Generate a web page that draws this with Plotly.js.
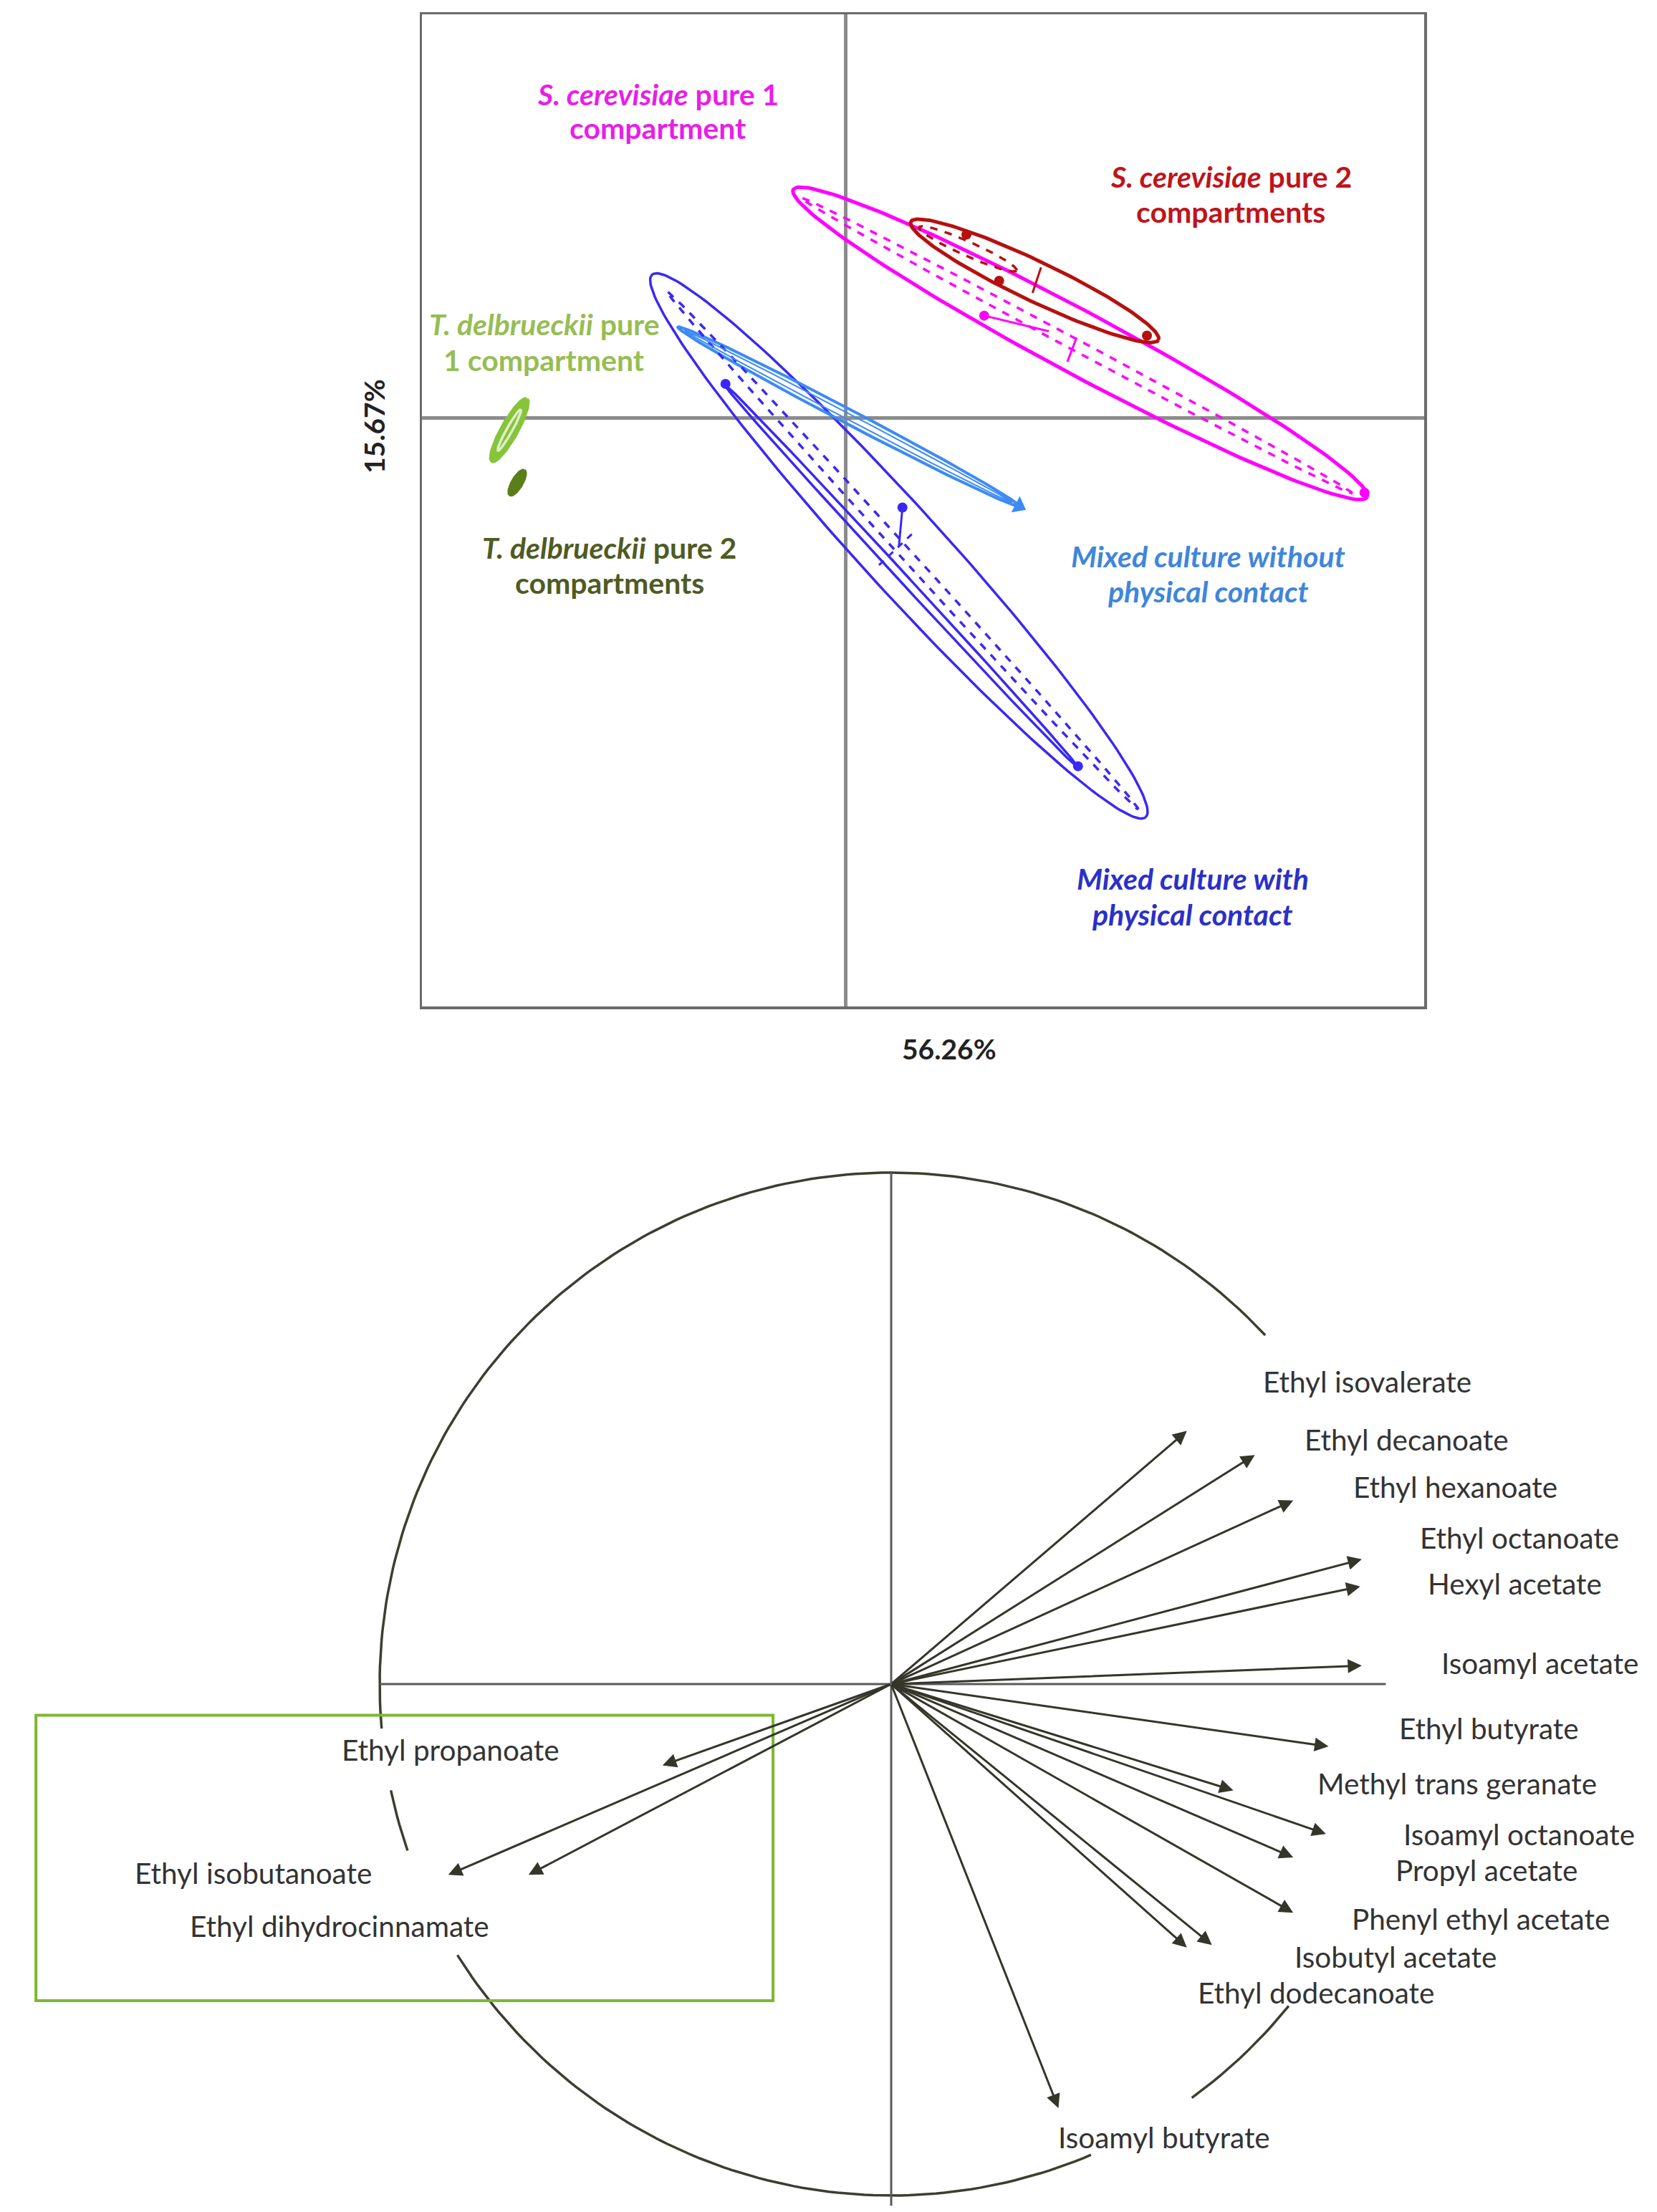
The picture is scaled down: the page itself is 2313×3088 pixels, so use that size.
<!DOCTYPE html>
<html>
<head>
<meta charset="utf-8">
<script src="https://cdn.plot.ly/plotly-3.0.1.min.js"></script>
<style>html,body{margin:0;padding:0;background:#fff;}#chart{width:2313px;height:3088px;}</style>
</head>
<body>
<div id="chart"></div>
<script>
// ---------- Scores plot (top): groups and their confidence ellipses ----------
const groupNames = [
  'S. cerevisiae pure 1 compartment',
  'S. cerevisiae pure 2 compartments',
  'Mixed culture with physical contact',
  'Mixed culture without physical contact',
  'T. delbrueckii pure 1 compartment',
  'T. delbrueckii pure 2 compartments'
];
const groupColors = ['#ff00ff', '#b5110f', '#3a28f5', '#3d8af7', '#86c43a', '#5a7f1a'];
const ellCx      = [3.30, 2.66, 0.75, 0.04, -4.73, -4.62];
const ellCy      = [1.05, 1.93, -1.80, 0.02, -0.17, -0.91];
const ellA       = [4.58, 1.93, 5.16, 2.71, 0.50, 0.20];
const ellB       = [0.44, 0.28, 0.58, 0.10, 0.11, 0.07];
const ellAngle   = [-28.2, -25.5, -47.7, -27.7, 60.8, 59.5];
// inner (dashed) ellipses
const innerCx    = [3.25, 1.72, 0.80, 0.04, -4.73];
const innerCy    = [1.02, 2.38, -1.86, 0.02, -0.17];
const innerA     = [4.40, 0.75, 4.93, 2.60, 0.33];
const innerB     = [0.08, 0.10, 0.08, 0.04, 0.04];
const innerAngle = [-28.2, -24.0, -47.7, -27.7, 60.8];
const innerGroup = [0, 1, 2, 3, 4];
// inner solid ellipse of the mixed culture with contact
const blueInner = {cx: 0.78, cy: -2.22, a: 3.68, b: 0.06, angle: -47.3};
// observation points
const ptX     = [1.70, 2.16, 4.24, -1.69, 0.80, 3.27, 2.44, 1.95, 7.30];
const ptY     = [2.58, 1.93, 1.16, 0.48, -1.26, -4.90, -1.24, 1.44, -1.05];
const ptGroup = [1, 1, 1, 2, 2, 2, 3, 0, 0];
// small segments inside the ellipses
const segX = [[0.80, 0.75], [0.47, 0.99], [1.95, 2.86], [3.25, 3.12], [2.75, 2.63]];
const segY = [[-1.26, -1.81], [-2.07, -1.58], [1.44, 1.22], [1.13, 0.79], [2.12, 1.76]];
const segGroup = [2, 2, 0, 0, 1];
const segDash = ['solid', 'dash', 'solid', 'solid', 'solid'];

const pc1Label = '56.26%';
const pc2Label = '15.67%';

// ---------- Correlation circle (bottom): variables ----------
const variables = [
  'Ethyl isovalerate', 'Ethyl decanoate', 'Ethyl hexanoate', 'Ethyl octanoate', 'Hexyl acetate',
  'Isoamyl acetate', 'Ethyl butyrate', 'Methyl trans geranate', 'Isoamyl octanoate', 'Propyl acetate',
  'Phenyl ethyl acetate', 'Isobutyl acetate', 'Ethyl dodecanoate', 'Isoamyl butyrate',
  'Ethyl propanoate', 'Ethyl isobutanoate', 'Ethyl dihydrocinnamate'
];
const loadPC1 = [0.578, 0.711, 0.786, 0.920, 0.917, 0.920, 0.855, 0.669, 0.850, 0.786, 0.786, 0.627, 0.578, 0.327, -0.447, -0.866, -0.709];
const loadPC2 = [0.495, 0.448, 0.359, 0.244, 0.191, 0.036, -0.122, -0.208, -0.293, -0.339, -0.447, -0.510, -0.515, -0.829, -0.159, -0.373, -0.373];
// label placement (layout only)
const labelPosX = [0.931, 1.008, 1.103, 1.228, 1.219, 1.269, 1.169, 1.106, 1.228, 1.164, 1.153, 0.986, 0.831, 0.533, -0.861, -1.247, -1.078];
const labelPosY = [0.592, 0.478, 0.386, 0.286, 0.197, 0.042, -0.086, -0.194, -0.294, -0.364, -0.458, -0.533, -0.603, -0.886, -0.128, -0.369, -0.472];
// visible arcs of the unit circle (degrees)
const arcStart = [43, 192, 212, 306];
const arcEnd   = [185, 199, 293, 321];

// ---------- build ----------
function ellipse(cx, cy, a, b, angDeg) {
  const th = angDeg * Math.PI / 180, xs = [], ys = [];
  for (let i = 0; i <= 180; i++) {
    const t = 2 * Math.PI * i / 180;
    xs.push(cx + a * Math.cos(t) * Math.cos(th) - b * Math.sin(t) * Math.sin(th));
    ys.push(cy + a * Math.cos(t) * Math.sin(th) + b * Math.sin(t) * Math.cos(th));
  }
  return {x: xs, y: ys};
}

const traces = [];
const outerWidth = [5, 5, 3.5, 4, 5, 4];
groupNames.forEach((g, i) => {
  const e = ellipse(ellCx[i], ellCy[i], ellA[i], ellB[i], ellAngle[i]);
  const filled = i >= 4;
  traces.push({
    type: 'scatter', mode: 'lines', x: e.x, y: e.y, name: g, showlegend: false, hoverinfo: 'name',
    line: {color: groupColors[i], width: outerWidth[i]},
    fill: filled ? 'toself' : 'none', fillcolor: groupColors[i], xaxis: 'x', yaxis: 'y'
  });
});
innerGroup.forEach((gi, k) => {
  const e = ellipse(innerCx[k], innerCy[k], innerA[k], innerB[k], innerAngle[k]);
  traces.push({
    type: 'scatter', mode: 'lines', x: e.x, y: e.y, showlegend: false, hoverinfo: 'skip',
    line: {color: gi === 4 ? '#dff0c8' : groupColors[gi], width: gi === 3 ? 2 : 3.5, dash: (gi === 3 || gi === 4) ? 'solid' : 'dash'},
    xaxis: 'x', yaxis: 'y'
  });
});
(function () {
  const e = ellipse(blueInner.cx, blueInner.cy, blueInner.a, blueInner.b, blueInner.angle);
  traces.push({type: 'scatter', mode: 'lines', x: e.x, y: e.y, showlegend: false, hoverinfo: 'skip',
    line: {color: groupColors[2], width: 3.5}, xaxis: 'x', yaxis: 'y'});
})();
segX.forEach((sx, k) => {
  traces.push({type: 'scatter', mode: 'lines', x: sx, y: segY[k], showlegend: false, hoverinfo: 'skip',
    line: {color: groupColors[segGroup[k]], width: 3, dash: segDash[k]}, xaxis: 'x', yaxis: 'y'});
});
ptX.forEach((px, k) => {
  const g = ptGroup[k];
  traces.push({type: 'scatter', mode: 'markers', x: [px], y: [ptY[k]], showlegend: false, hoverinfo: 'skip',
    marker: g === 3 ? {symbol: 'triangle-right', size: 22, angle: 27.7, color: groupColors[g]} : {size: 14, color: groupColors[g]},
    xaxis: 'x', yaxis: 'y'});
});

// correlation circle arcs
arcStart.forEach((s, k) => {
  const xs = [], ys = [];
  for (let d = s; d <= arcEnd[k] + 1e-9; d += 1) {
    xs.push(Math.cos(d * Math.PI / 180));
    ys.push(Math.sin(d * Math.PI / 180));
  }
  traces.push({type: 'scatter', mode: 'lines', x: xs, y: ys, showlegend: false, hoverinfo: 'skip',
    line: {color: '#3d3d30', width: 3.5}, xaxis: 'x2', yaxis: 'y2'});
});
// circle axes
traces.push({type: 'scatter', mode: 'lines', x: [0, 0], y: [1.0, -1.02], showlegend: false, hoverinfo: 'skip',
  line: {color: '#5a5a5a', width: 3}, xaxis: 'x2', yaxis: 'y2'});
traces.push({type: 'scatter', mode: 'lines', x: [-1.0, 0.967], y: [0, 0], showlegend: false, hoverinfo: 'skip',
  line: {color: '#5a5a5a', width: 3}, xaxis: 'x2', yaxis: 'y2'});

const annotations = [];
// arrows
variables.forEach((v, i) => {
  annotations.push({
    xref: 'x2', yref: 'y2', axref: 'x2', ayref: 'y2',
    x: loadPC1[i], y: loadPC2[i], ax: 0, ay: 0, text: '', showarrow: true,
    arrowhead: 2, arrowsize: 1.3, arrowwidth: 3, arrowcolor: '#35352a', standoff: 0
  });
  annotations.push({
    xref: 'x2', yref: 'y2', x: labelPosX[i], y: labelPosY[i], text: v, showarrow: false,
    font: {family: 'Lato, sans-serif', size: 40.5, color: '#333333'}, xanchor: 'center', yanchor: 'middle'
  });
});

// top labels (one annotation per line)
const topLabels = [
  {t: ['<b><i>S. cerevisiae</i> pure 1</b>', '<b>compartment</b>'], x: -2.64, y: [4.56, 4.08], c: '#e81ee8'},
  {t: ['<b><i>S. cerevisiae</i> pure 2</b>', '<b>compartments</b>'], x: 5.42, y: [3.40, 2.90], c: '#c0141a'},
  {t: ['<b><i>T. delbrueckii</i> pure</b>', '<b>1 compartment</b>'], x: -4.24, y: [1.32, 0.82], c: '#97bd55'},
  {t: ['<b><i>T. delbrueckii</i> pure 2</b>', '<b>compartments</b>'], x: -3.32, y: [-1.82, -2.32], c: '#4f5b23'},
  {t: ['<b><i>Mixed culture without</i></b>', '<b><i>physical contact</i></b>'], x: 5.10, y: [-1.94, -2.44], c: '#3f86db'},
  {t: ['<b><i>Mixed culture with</i></b>', '<b><i>physical contact</i></b>'], x: 4.88, y: [-6.48, -6.98], c: '#2b30c8'}
];
topLabels.forEach(l => l.t.forEach((line, j) => annotations.push({
  xref: 'x', yref: 'y', x: l.x, y: l.y[j], text: line, showarrow: false,
  font: {family: 'Lato, sans-serif', size: 41, color: l.c}, xanchor: 'center', yanchor: 'middle', align: 'center'
})));
annotations.push({xref: 'paper', yref: 'paper', x: 1325 / 2313, y: 1 - 1464 / 3088, text: '<b>' + pc1Label + '</b>',
  showarrow: false, font: {family: 'Lato, sans-serif', size: 39, color: '#222'}, xanchor: 'center', yanchor: 'middle'});
annotations.push({xref: 'paper', yref: 'paper', x: 522 / 2313, y: 1 - 595 / 3088, text: '<b>' + pc2Label + '</b>', textangle: -90,
  showarrow: false, font: {family: 'Lato, sans-serif', size: 39, color: '#222'}, xanchor: 'center', yanchor: 'middle'});

const layout = {
  width: 2313, height: 3088, margin: {l: 0, r: 0, t: 0, b: 0},
  paper_bgcolor: '#ffffff', plot_bgcolor: 'rgba(0,0,0,0)', showlegend: false,
  xaxis: {domain: [589 / 2313, 1988 / 2313], range: [-5.96, 8.14], showgrid: false, zeroline: true,
    zerolinecolor: '#8c8c8c', zerolinewidth: 5, showline: true, mirror: true, linecolor: '#6b6b6b', linewidth: 3.5,
    showticklabels: false, ticks: '', fixedrange: true},
  yaxis: {domain: [1 - 1405 / 3088, 1 - 20 / 3088], range: [-8.28, 5.68], showgrid: false, zeroline: true,
    zerolinecolor: '#8c8c8c', zerolinewidth: 5, showline: true, mirror: true, linecolor: '#6b6b6b', linewidth: 3.5,
    showticklabels: false, ticks: '', fixedrange: true},
  xaxis2: {domain: [0, 1], range: [-1244 / 714, (2313 - 1244) / 714], visible: false, anchor: 'y2'},
  yaxis2: {domain: [0, 1488 / 3088], range: [(2351 - 3088) / 714, (2351 - 1600) / 714], visible: false, anchor: 'x2'},
  shapes: [{type: 'rect', xref: 'x2', yref: 'y2', x0: -1.672, x1: -0.231, y0: -0.061, y1: -0.619,
    line: {color: '#7cb82f', width: 4}}],
  annotations: annotations
};
Plotly.newPlot('chart', traces, layout, {displayModeBar: false, staticPlot: true});
</script>
</body>
</html>
